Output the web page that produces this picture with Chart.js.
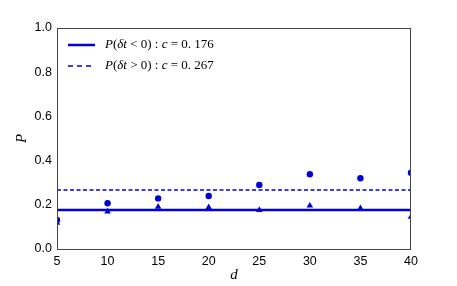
<!DOCTYPE html>
<html>
<head>
<meta charset="utf-8">
<script src="https://cdn.jsdelivr.net/npm/chart.js@4/dist/chart.umd.min.js"></script>
<style>
  html, body { margin: 0; padding: 0; background: #fff; }
  #grafico { display: block; }
</style>
</head>
<body>
<canvas id="grafico" width="457" height="286"></canvas>
<script>
// datos
const dValores = [5, 10, 15, 20, 25, 30, 35, 40];
const pCirculos = [0.131, 0.207, 0.229, 0.240, 0.290, 0.338, 0.320, 0.345];
const pTriangulos = [0.118, 0.169, 0.191, 0.189, 0.176, 0.196, 0.184, 0.146];
const cNegativo = 0.176;
const cPositivo = 0.267;
const ticksX = [5, 10, 15, 20, 25, 30, 35, 40];
const ticksY = [0, 0.2, 0.4, 0.6, 0.8, 1.0];

const azul = '#0000dd';
const serif = "'Liberation Serif', 'DejaVu Serif', serif";
const sans = "'Liberation Sans', Arial, sans-serif";

const aPuntos = (ys) => dValores.map((d, i) => ({ x: d, y: ys[i] }));
const lineaH = (c) => [{ x: dValores[0], y: c }, { x: dValores[dValores.length - 1], y: c }];

// Texto de leyenda en partes: [texto, cursiva]
const textosLeyenda = [
    [['P', true], ['(', false], ['δt', true], [' < 0) : ', false], ['c', true], [' = 0. 176', false]],
    [['P', true], ['(', false], ['δt', true], [' > 0) : ', false], ['c', true], [' = 0. 267', false]]
];

// Marco del área y leyenda propia
const marcoYLeyenda = {
    id: 'marcoYLeyenda',
    afterDatasetsDraw(chart) {
        const { ctx, chartArea: a } = chart;
        ctx.save();
        ctx.strokeStyle = '#444';
        ctx.lineWidth = 1;
        ctx.strokeRect(a.left + 0.5, a.top + 0.5, a.right - a.left - 1, a.bottom - a.top);

        const estilos = [chart.data.datasets[0], chart.data.datasets[1]];
        estilos.forEach((ds, i) => {
            const y = a.top + 17 + i * 21;
            ctx.beginPath();
            ctx.strokeStyle = ds.borderColor;
            ctx.lineWidth = ds.borderWidth;
            ctx.setLineDash(i === 1 ? [5, 4] : []);
            ctx.moveTo(a.left + 11, y);
            ctx.lineTo(a.left + 38, y);
            ctx.stroke();
            ctx.setLineDash([]);

            let x = a.left + 48;
            ctx.fillStyle = '#000';
            ctx.textBaseline = 'middle';
            textosLeyenda[i].forEach(([t, it]) => {
                ctx.font = (it ? 'italic ' : '') + '13px ' + serif;
                ctx.fillText(t, x, y);
                x += ctx.measureText(t).width;
            });
        });
        ctx.restore();
    }
};

const ctx = document.getElementById('grafico').getContext('2d');
new Chart(ctx, {
    type: 'scatter',
    data: {
        datasets: [
            {
                label: 'P(δt<0)',
                data: lineaH(cNegativo),
                showLine: true,
                borderColor: azul,
                borderWidth: 2.5,
                pointRadius: 0,
                clip: 0
            },
            {
                label: 'P(δt>0)',
                data: lineaH(cPositivo),
                showLine: true,
                borderColor: azul,
                borderWidth: 1.5,
                borderDash: [4, 2.5],
                pointRadius: 0,
                clip: 0
            },
            {
                label: 'circulos',
                data: aPuntos(pCirculos),
                backgroundColor: azul,
                borderColor: azul,
                pointStyle: 'circle',
                pointRadius: 3.2,
                borderWidth: 0,
                clip: 0
            },
            {
                label: 'triangulos',
                data: aPuntos(pTriangulos),
                backgroundColor: azul,
                borderColor: azul,
                pointStyle: 'triangle',
                pointRadius: 3.8,
                borderWidth: 0,
                clip: 0
            }
        ]
    },
    options: {
        responsive: false,
        animation: false,
        layout: { padding: { left: 0, top: 28, right: 46, bottom: 0 } },
        plugins: {
            legend: { display: false },
            tooltip: { enabled: false }
        },
        scales: {
            x: {
                type: 'linear',
                min: 5,
                max: 40,
                afterBuildTicks: (s) => { s.ticks = ticksX.map(v => ({ value: v })); },
                afterFit: (s) => { s.height = 37; },
                grid: { display: false, drawTicks: false },
                border: { display: false },
                ticks: {
                    color: '#000',
                    padding: 5,
                    font: { family: sans, size: 12.5 }
                },
                title: {
                    display: true,
                    text: 'd',
                    color: '#000',
                    padding: { top: 0, bottom: 2 },
                    font: { family: serif, size: 15, style: 'italic' }
                }
            },
            y: {
                min: 0,
                max: 1,
                afterBuildTicks: (s) => { s.ticks = ticksY.map(v => ({ value: v })); },
                afterFit: (s) => { s.width = 57; },
                grid: { display: false, drawTicks: false },
                border: { display: false },
                ticks: {
                    color: '#000',
                    padding: 5,
                    font: { family: sans, size: 12.5 },
                    callback: (v) => v.toFixed(1)
                },
                title: {
                    display: true,
                    text: 'P',
                    color: '#000',
                    padding: { top: 13, bottom: 0 },
                    font: { family: serif, size: 15, style: 'italic' }
                }
            }
        }
    },
    plugins: [marcoYLeyenda]
});
</script>
</body>
</html>
